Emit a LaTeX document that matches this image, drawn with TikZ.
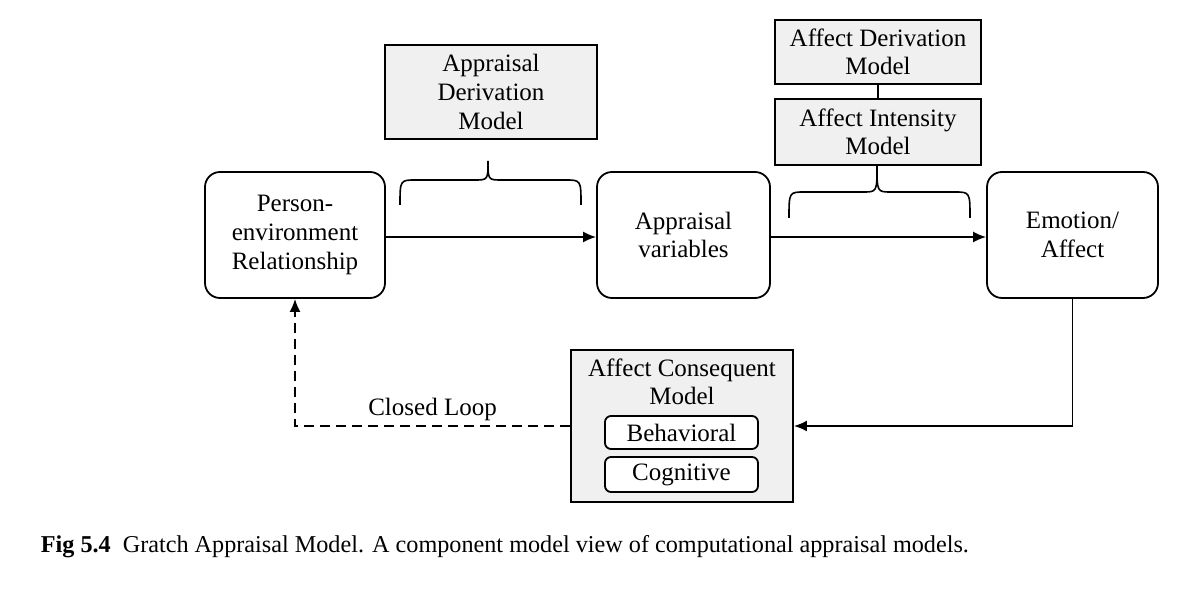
\documentclass[tikz,border=0pt]{standalone}
\usepackage{fontspec}
\setmainfont{Liberation Serif}
\usetikzlibrary{arrows.meta}
\tikzset{
  every picture/.style={line width=0.9pt},
  lbl/.style={font=\fontsize{12.5}{14.3}\selectfont, align=center},
  rbox/.style={draw, rounded corners=7.5pt, inner sep=0pt, lbl},
  mbox/.style={draw, fill=black!6, inner sep=0pt, lbl},
  sbox/.style={draw, rounded corners=3pt, fill=white, inner sep=0pt, lbl,
     minimum width=76.5pt},
  arr/.style={-{Latex[length=6.5pt,width=5.5pt]}},
  brace/.style={line width=0.8pt}
}
\begin{document}
\begin{tikzpicture}[x=0.5pt,y=-0.5pt]
\useasboundingbox (0,0) rectangle (1182,592);
% main boxes
\node[rbox, minimum width=90pt, minimum height=63pt] (per) at (295,235) {Person-\\environment\\Relationship};
\node[rbox, minimum width=86.5pt, minimum height=63pt] (app) at (683.5,235) {Appraisal\\variables};
\node[rbox, minimum width=85.5pt, minimum height=63pt] (emo) at (1072.5,235) {Emotion/\\Affect};
% model boxes
\node[mbox, minimum width=106pt, minimum height=47pt] (adm) at (491,92) {Appraisal\\Derivation\\Model};
\node[mbox, minimum width=103pt, minimum height=32pt] (afd) at (878,52) {Affect Derivation\\Model};
\node[mbox, minimum width=103pt, minimum height=33pt] (afi) at (878,132) {Affect Intensity\\Model};
\draw (afd.south) -- (afi.north);
% consequent model
\node[mbox, minimum width=111pt, minimum height=76pt] (acm) at (682,426) {};
\node[lbl, inner sep=0pt] (acmt) at (682,382) {Affect Consequent\\Model};
\node[sbox, minimum height=16.5pt] (beh) at (681.5,432.5) {Behavioral};
\node[sbox, minimum height=17.5pt] (cog) at (681.5,474.5) {Cognitive};
% braces
\coordinate (b1) at (488,161);
\coordinate (b2) at (877,165);
\draw[brace] (400,205) .. controls (400,180) .. (416,180) -- (474,180)
   .. controls (488,180) .. (b1) .. controls (488,180) .. (502,180) -- (565,180)
   .. controls (581,180) .. (581,205);
\draw[brace] (789,218) .. controls (789,192) .. (805,192) -- (863,192)
   .. controls (877,192) .. (b2) .. controls (877,192) .. (891,192) -- (954,192)
   .. controls (970,192) .. (970,218);
% arrows
\draw[arr] (per.east |- 0,237) -- (app.west |- 0,237);
\draw[arr] (app.east |- 0,237) -- (emo.west |- 0,237);
\draw[arr] (emo.south) |- (acm.east);
\draw[arr, dashed, dash pattern=on 5pt off 3pt] (acm.west) -| node[pos=0.25, above=2pt, inner sep=0pt, lbl] (cl) {Closed Loop} (per.south);
% caption
\node[anchor=base west, inner sep=0pt, font=\fontsize{12.1}{14}\selectfont] (cap) at (40,552)
  {\textbf{Fig 5.4}\hspace{6pt}Gratch Appraisal Model. A component model view of computational appraisal models.};
\end{tikzpicture}
\end{document}
